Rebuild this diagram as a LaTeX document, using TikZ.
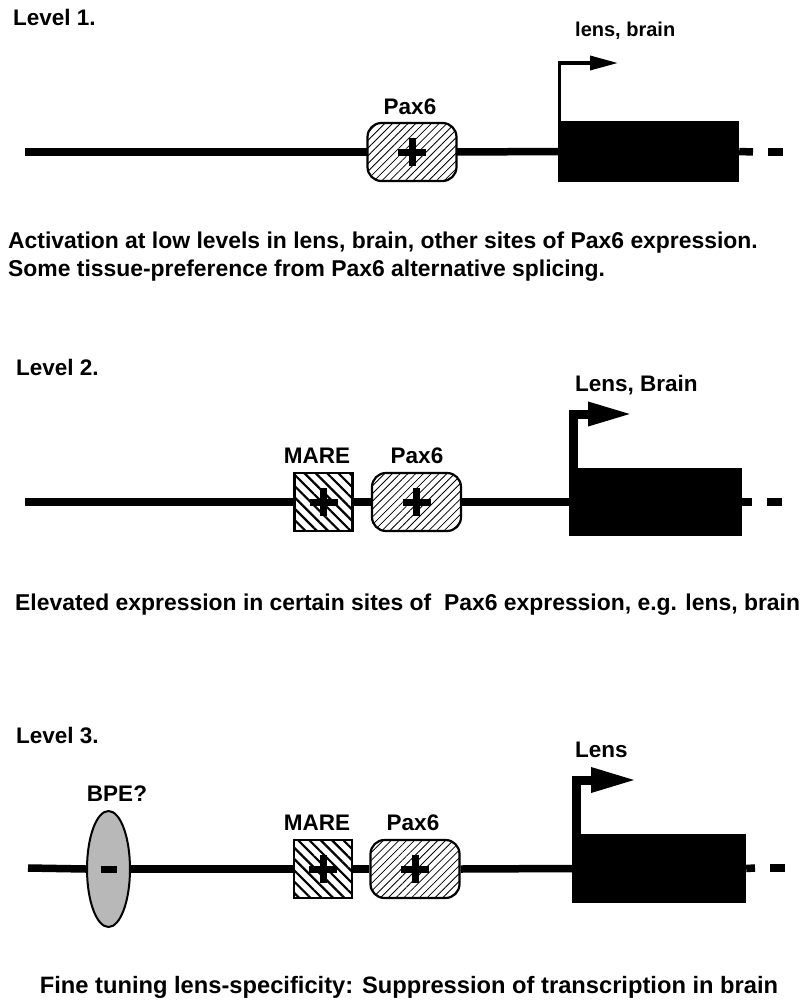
\documentclass[tikz,border=0pt]{standalone}
\usepackage{fontspec}
\setmainfont{Liberation Sans}
\usetikzlibrary{arrows.meta,patterns.meta,shapes.geometric,positioning}

\tikzset{
  lbl/.style={font=\fontsize{22.5}{27}\selectfont\bfseries,inner sep=0pt},
  smlbl/.style={font=\fontsize{20}{24}\selectfont\bfseries,inner sep=0pt},
  txt/.style={font=\fontsize{22.9}{27}\selectfont\bfseries,inner sep=0pt},
  dna/.style={line width=7.5pt},
  gene/.style={fill=black,draw=none,inner sep=0pt},
  paxbox/.style={draw,line width=2.2pt,rounded corners=14pt,inner sep=0pt,
    minimum width=89pt,minimum height=58pt,
    pattern={Lines[angle=45,distance=5.5pt,line width=0.8pt]}},
  marebox/.style={draw,line width=2.2pt,inner sep=0pt,
    minimum width=58pt,minimum height=58pt,
    pattern={Lines[angle=-45,distance=8pt,line width=2.2pt]}},
  bpebox/.style={ellipse,draw,line width=2pt,fill=black!28,inner sep=0pt,
    minimum width=43pt,minimum height=116pt},
  tss/.style={line width=9pt,-{Triangle[length=45pt,width=22pt]}},
}
\newcommand{\plusat}[1]{%
  \draw[line width=7pt] ([xshift=-14pt]#1.center) -- ([xshift=14pt]#1.center);
  \draw[line width=7pt] ([yshift=-14pt]#1.center) -- ([yshift=14pt]#1.center);}

\begin{document}
\begin{tikzpicture}[x=1pt,y=-1pt]
	\useasboundingbox (0,0) rectangle (800,1006);

	%LEVEL 1
	\node[lbl,anchor=base west] (lev1) at (13,26) {Level 1.};
	\node[gene,minimum width=181pt,minimum height=61pt] (g1) at (648.5,151.5) {};
	\node[paxbox] (pax1) at (412,152) {};
	\node[lbl,anchor=base] (paxl1) at (410,115) {Pax6};
	\coordinate (s1) at (25,152);
	\coordinate (e1) at (753,152);
	\coordinate (d1a) at (768,152);
	\coordinate (d1b) at (783,152);
	\draw[dna] (s1) -- (pax1.west);
	\draw[dna] (pax1.east) -- (g1.west);
	\draw[dna] (g1.east) -- (e1);
	\draw[dna] (d1a) -- (d1b); %dash
	\plusat{pax1}
	\coordinate (t1) at (618,63);
	\draw[line width=3.5pt,-{Triangle[length=28pt,width=14pt]}] ([xshift=1.75pt]g1.north west) |- (t1);
	\node[smlbl,anchor=base west] (tis1) at (575,37) {lens, brain};
	\node[txt,anchor=base west] (txt1a) at (8,248) {Activation at low levels in lens, brain, other sites of Pax6 expression.};
	\node[txt,anchor=base west] (txt1b) at (8,276) {Some tissue-preference from Pax6 alternative splicing.};

	%LEVEL 2
	\node[lbl,anchor=base west] (lev2) at (16,375) {Level 2.};
	\node[gene,minimum width=173pt,minimum height=68pt] (g2) at (655.5,502) {};
	\node[marebox] (mare2) at (323.5,502) {};
	\node[paxbox] (pax2) at (416.5,502) {};
	\node[lbl,anchor=base] (marel2) at (317,463) {MARE};
	\node[lbl,anchor=base] (paxl2) at (417,463) {Pax6};
	\coordinate (s2) at (25,502);
	\coordinate (e2) at (752,502);
	\coordinate (d2a) at (767,502);
	\coordinate (d2b) at (782,502);
	\draw[dna] (s2) -- (mare2.west);
	\draw[dna] (mare2.east) -- (pax2.west);
	\draw[dna] (pax2.east) -- (g2.west);
	\draw[dna] (g2.east) -- (e2);
	\draw[dna] (d2a) -- (d2b); %dash
	\plusat{mare2}
	\plusat{pax2}
	\coordinate (t2) at (633,414);
	\draw[tss] ([xshift=4.5pt]g2.north west) |- (t2);
	\node[lbl,anchor=base west] (tis2) at (575,391) {Lens, Brain};
	\node[txt,anchor=base west] (txt2) at (15,610) {Elevated expression in certain sites of \ Pax6 expression, e.g. lens, brain};

	%LEVEL 3
	\node[lbl,anchor=base west] (lev3) at (16,743) {Level 3.};
	\node[gene,minimum width=174pt,minimum height=69pt] (g3) at (659,868.5) {};
	\node[bpebox] (bpe3) at (108.5,869) {};
	\node[marebox] (mare3) at (323,869) {};
	\node[paxbox] (pax3) at (415,869) {};
	\node[lbl,anchor=base] (bpel3) at (117,801) {BPE?};
	\node[lbl,anchor=base] (marel3) at (317,830) {MARE};
	\node[lbl,anchor=base] (paxl3) at (413,830) {Pax6};
	\coordinate (s3) at (28,868);
	\coordinate (e3) at (755,868);
	\coordinate (d3a) at (770,868);
	\coordinate (d3b) at (785,868);
	\draw[dna] (s3) -- (bpe3.west);
	\draw[dna] (bpe3.east) -- (mare3.west);
	\draw[dna] (mare3.east) -- (pax3.west);
	\draw[dna] (pax3.east) -- (g3.west);
	\draw[dna] (g3.east) -- (e3);
	\draw[dna] (d3a) -- (d3b); %dash
	\draw[line width=7pt] ([xshift=-8pt]bpe3.center) -- ([xshift=8pt]bpe3.center); %minus
	\plusat{mare3}
	\plusat{pax3}
	\coordinate (t3) at (637,780);
	\draw[tss,-{Triangle[length=46pt,width=23pt]}] ([xshift=5pt]g3.north west) |- (t3);
	\node[lbl,anchor=base west] (tis3) at (575,757) {Lens};
	\node[txt,anchor=base,font=\fontsize{23.7}{28}\selectfont\bfseries] (txt3) at (409,993) {Fine tuning lens-specificity: Suppression of transcription in brain};
\end{tikzpicture}
\end{document}
